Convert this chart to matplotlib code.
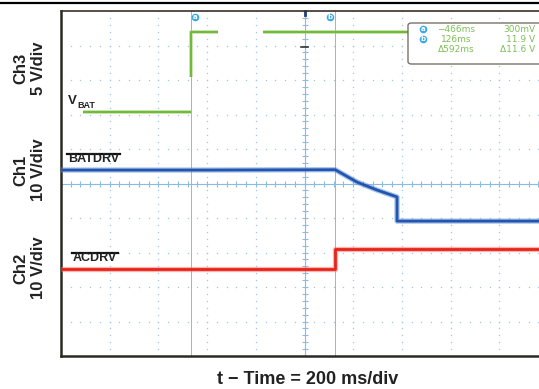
import numpy as np
import matplotlib.pyplot as plt
from matplotlib.lines import Line2D
from matplotlib.patches import FancyBboxPatch

# time base: 200 ms/div, trigger in the middle of the screen
t_min, t_max = -1000, 1000

# Ch3 - VBAT (5 V/div)
vbat_t = [-909, -466, np.nan, -466, -466, -355, np.nan, -170, 1000]
vbat_v = [0.3, 0.3, np.nan, 5.4, 11.9, 11.9, np.nan, 11.9, 11.9]

# Ch1 - BATDRV (10 V/div)
batdrv_t = [-1000, -400, 126, 216, 298, 380, 380, 1000]
batdrv_v = [14.9, 14.9, 15.0, 11.4, 9.1, 7.1, 0.1, 0.1]

# Ch2 - ACDRV (10 V/div)
acdrv_t = [-1000, 126, 126, 1000]
acdrv_v = [0.2, 0.2, 6.0, 6.0]

# cursors and readout
cursor_t = [-466, 126]
cursor_names = ["a", "b"]
meas_time = ["\u2212466ms", "126ms", "\u0394592ms"]
meas_volt = ["300mV", "11.9 V", "\u039411.6 V"]

# channel scale (V/div) and ground position (div from bottom)
ch3_scale, ch3_gnd = 5, 7.0
ch1_scale, ch1_gnd = 10, 3.9
ch2_scale, ch2_gnd = 10, 2.5

W, H = 539, 389
fig = plt.figure(figsize=(W / 100, H / 100), dpi=100)


def px(x, y):
    # pixel position -> figure fraction
    return x / W, 1 - y / H


ax = fig.add_axes([61 / W, 33 / H, 487 / W, 345 / H])
ax.set_xlim(t_min, t_max)
ax.set_ylim(0, 10)
ax.set_xticks([])
ax.set_yticks([])

grid_c = "#9fc6e6"
axis_c = "#8dbbe0"

# dotted graticule
minor_x = np.arange(t_min, t_max + 1, 40)
minor_y = np.arange(0, 10.01, 0.2)
for xv in range(-800, 1000, 200):
    if xv != 0:
        ax.plot([xv] * len(minor_y), minor_y, ls="none", marker="s", ms=0.9,
                mew=0, color=grid_c)
for yv in range(1, 10):
    if yv != 5:
        ax.plot(minor_x, [yv] * len(minor_x), ls="none", marker="s", ms=0.9,
                mew=0, color=grid_c)

# centre axes with small ticks
ax.axvline(0, color=axis_c, lw=0.8)
ax.axhline(5, color=axis_c, lw=0.8)
ax.plot([0] * len(minor_y), minor_y, ls="none", marker="_", ms=4, mew=0.8, color=axis_c)
ax.plot(minor_x, [5] * len(minor_x), ls="none", marker="|", ms=4, mew=0.8, color=axis_c)

# cursor lines
for ct in cursor_t:
    ax.axvline(ct, color="#8fcf68", lw=0.7, zorder=2.5)

# trigger level marker
ax.plot([-14, 14], [8.96, 8.96], color="#333333", lw=1.2)
ax.plot([0, 0], [10, 9.88], color="#1f3f7a", lw=2, clip_on=False)


def trace(t, v, scale, gnd, core, halo, lw):
    y = np.array(v, dtype=float) / scale + gnd
    ax.plot(t, y, color=halo, lw=lw * 1.9, alpha=0.55, zorder=3, solid_capstyle="butt")
    ax.plot(t, y, color=core, lw=lw, zorder=4, solid_capstyle="butt")


trace(vbat_t, vbat_v, ch3_scale, ch3_gnd, "#72b83a", "#a9d67c", 1.5)
trace(batdrv_t, batdrv_v, ch1_scale, ch1_gnd, "#2255b0", "#5f8ed4", 2.0)
trace(acdrv_t, acdrv_v, ch2_scale, ch2_gnd, "#e8231b", "#f47a6c", 2.0)

# frame
for s in ["left", "bottom"]:
    ax.spines[s].set_linewidth(1.8)
    ax.spines[s].set_color("#2a2a24")
ax.spines["top"].set_linewidth(1.2)
ax.spines["top"].set_color("#3a3028")
ax.spines["right"].set_visible(False)

# header rule
fig.add_artist(Line2D([0, 1], [1 - 3 / H] * 2, color="black", lw=1.6))

# channel labels
font = "Liberation Sans"
for label, y in [("Ch3\n5 V/div", 68), ("Ch1\n10 V/div", 170), ("Ch2\n10 V/div", 268)]:
    fig.text(*px(30, y), label, rotation=90, ha="center", va="center",
             multialignment="center", fontsize=12, fontweight="bold",
             family=font, color="#222222")

fig.text(*px(308, 380), "t \u2212 Time = 200 ms/div", ha="center", va="center",
         fontsize=13, fontweight="bold", family=font, color="#222222")

# trace names
fig.text(*px(68, 103.5), "V", ha="left", va="baseline", fontsize=9.5,
         fontweight="bold", family=font, color="#222222")
fig.text(*px(77.5, 108), "BAT", ha="left", va="baseline", fontsize=6.5,
         fontweight="bold", family=font, color="#222222")
t1 = fig.text(*px(68, 162), "BATDRV", ha="left", va="baseline", fontsize=9,
              fontweight="bold", family=font, color="#222222")
t2 = fig.text(*px(73, 261), "ACDRV", ha="left", va="baseline", fontsize=9,
              fontweight="bold", family=font, color="#222222")

# overlines above the active-low names
fig.canvas.draw()
r = fig.canvas.get_renderer()
for t in [t1, t2]:
    bb = t.get_window_extent(r)
    y = bb.y1 - 1.2
    fig.add_artist(Line2D([(bb.x0 - 1) / W, (bb.x1 + 1) / W], [y / H, y / H],
                          color="#111111", lw=1.6))

# cursor tags along the top
cur_c = "#3aa9e6"
for name, x in zip(cursor_names, [195, 330]):
    fig.add_artist(Line2D([px(x, 17)[0]], [px(x, 17)[1]], marker="o", ms=5.5,
                          color=cur_c, mew=0))
    fig.text(*px(x, 17.3), name, ha="center", va="center", fontsize=5,
             fontweight="bold", color="white")

# measurement readout box
x0, y0 = px(408, 64)
x1, y1 = px(548, 23)
fig.add_artist(FancyBboxPatch((x0, y0), x1 - x0, y1 - y0,
                              boxstyle="round,pad=0,rounding_size=0.006",
                              transform=fig.transFigure, fc="white",
                              ec="#6b6258", lw=0.9, zorder=5))
txt_c = "#7dbf58"
for i, (mt, mv) in enumerate(zip(meas_time, meas_volt)):
    y = 29 + 10 * i
    if i < 2:
        fig.add_artist(Line2D([px(423, y)[0]], [px(423, y)[1]], marker="o", ms=5.5,
                              color=cur_c, mew=0, zorder=6))
        fig.text(*px(423, y + 0.3), cursor_names[i], ha="center", va="center",
                 fontsize=5, fontweight="bold", color="white", zorder=7)
    fig.text(*px(456, y), mt, ha="center", va="center", fontsize=6.5,
             color=txt_c, zorder=7)
    fig.text(*px(535, y), mv, ha="right", va="center", fontsize=6.5,
             color=txt_c, zorder=7)

plt.savefig("out.png", dpi=100)
